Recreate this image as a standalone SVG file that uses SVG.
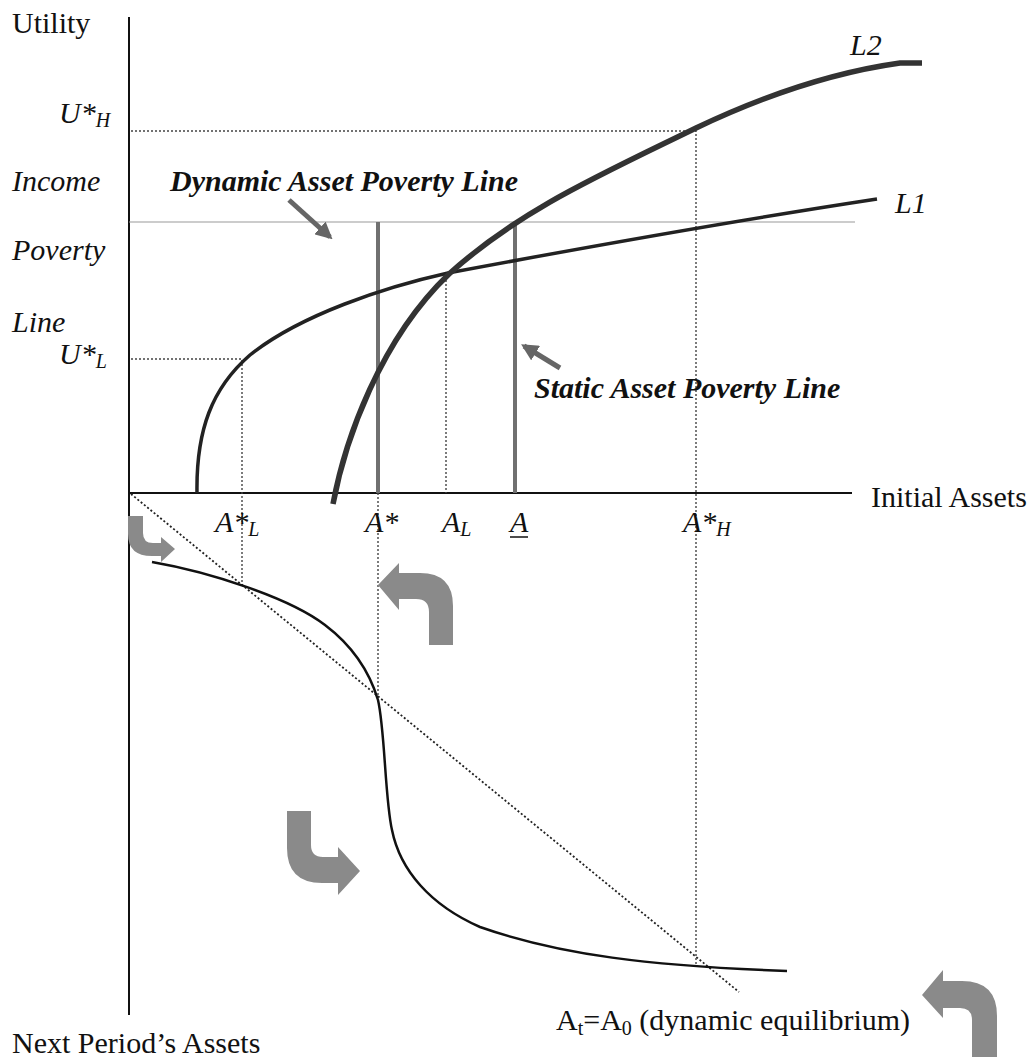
<svg xmlns="http://www.w3.org/2000/svg" width="1034" height="1057" viewBox="0 0 1034 1057">
<style>
text{font-family:"Liberation Serif","Times New Roman",serif;font-size:30px;fill:#111}
.it{font-style:italic}
.bi{font-style:italic;font-weight:bold}
.sub{font-size:20px}
.axis{stroke:#111;stroke-width:2;fill:none}
.dot{stroke:#444;stroke-width:1.4;stroke-dasharray:2 2;fill:none}
.diag{stroke:#222;stroke-width:1.8;stroke-dasharray:2 2.2;fill:none}
.apl{stroke:#707070;stroke-width:4;fill:none}
.blk{fill:#8a8a8a}
.ptr{stroke:#666;stroke-width:5;fill:none}
</style>
<defs>
<marker id="head" viewBox="0 0 10 10" refX="8" refY="5" markerWidth="3.4" markerHeight="3.4" orient="auto" markerUnits="strokeWidth">
<path d="M0,0 L10,5 L0,10 Z" fill="#666"/>
</marker>
</defs>
<rect width="1034" height="1057" fill="#fff"/>

<g id="axes">
<line class="axis" x1="129" y1="17" x2="129" y2="1015"/>
<line class="axis" x1="129" y1="493" x2="852" y2="493"/>
<line x1="129" y1="222" x2="855" y2="222" stroke="#999" stroke-width="1.2"/>
</g>

<g id="guides">
<polyline class="dot" points="131,131 696,131 696,966"/>
<polyline class="dot" points="131,359 242,359 242,585"/>
<line class="dot" x1="446" y1="272" x2="446" y2="493"/>
<line class="dot" x1="378" y1="493" x2="378" y2="695"/>
<line class="diag" x1="131" y1="494" x2="739" y2="992"/>
</g>

<g id="poverty-lines">
<line class="apl" x1="378" y1="222" x2="378" y2="493"/>
<line class="apl" x1="515" y1="222" x2="515" y2="493"/>
</g>

<g id="curves">
<path id="L1" d="M197,493 C196,430 212,388 250,355 C300,315 385,287 448,273 C560,252 700,226 877,199" stroke="#222" stroke-width="3.5" fill="none"/>
<path id="L2" d="M333,504 C345,440 380,340 449,274 C520,210 600,175 696,128 C780,88 850,70 900,63 L922,63" stroke="#333" stroke-width="5.5" fill="none"/>
<path id="transition" d="M152,562 C210,572 290,598 325,625 C358,650 372,680 378,700 C385,730 385,800 392,830 C400,870 430,905 480,927 C560,955 650,966 787,971" stroke="#111" stroke-width="2.5" fill="none"/>
</g>

<g id="connectors">
<line class="ptr" x1="289" y1="200" x2="330" y2="237" marker-end="url(#head)"/>
<line class="ptr" x1="560" y1="368" x2="524" y2="346" marker-end="url(#head)"/>
</g>

<g id="flow-arrows">
<path class="blk" d="M128,516 H143 V533 Q143,543 153,543 H161 V537 L175,549 L161,562 V556 H152 Q128,556 128,534 Z"/>
<path class="blk" d="M378,585 L399,563 V573 H420 Q453,573 453,606 V645 H429 V612 Q429,599 416,599 H399 V610 Z"/>
<path class="blk" d="M287,811 H311 V845 Q311,857 323,857 H338 V847 L360,871 L338,895 V883 H322 Q287,883 287,848 Z"/>
<path class="blk" d="M922,995 L943,970 V981 H962 Q997,981 997,1016 V1057 H972 V1020 Q972,1008 960,1008 H943 V1018 Z"/>
</g>

<g id="labels">
<text x="12" y="33">Utility</text>
<text class="it" x="59" y="123">U*<tspan class="sub" dy="4">H</tspan></text>
<text class="it" x="12" y="191">Income</text>
<text class="it" x="12" y="260">Poverty</text>
<text class="it" x="12" y="332">Line</text>
<text class="it" x="59" y="364">U*<tspan class="sub" dy="4">L</tspan></text>
<text class="bi" x="170" y="191" font-size="29">Dynamic Asset Poverty Line</text>
<text class="bi" x="534" y="398">Static Asset Poverty Line</text>
<text class="it" x="850" y="55">L2</text>
<text class="it" x="895" y="213">L1</text>
<text x="871" y="507">Initial Assets</text>
<text class="it" x="215" y="532">A*<tspan class="sub" dy="4">L</tspan></text>
<text class="it" x="365" y="532">A*</text>
<text class="it" x="442" y="532">A<tspan class="sub" dy="4">L</tspan></text>
<text class="it" x="510" y="532">A</text>
<line x1="510" y1="537" x2="528" y2="537" stroke="#111" stroke-width="1.5"/>
<text class="it" x="683" y="532">A*<tspan class="sub" dy="4">H</tspan></text>
<text x="556" y="1030">A<tspan class="sub" dy="5">t</tspan><tspan dy="-5">=A</tspan><tspan class="sub" dy="5">0</tspan><tspan dy="-5"> (dynamic equilibrium)</tspan></text>
<text x="12" y="1053">Next Period’s Assets</text>
</g>
</svg>
